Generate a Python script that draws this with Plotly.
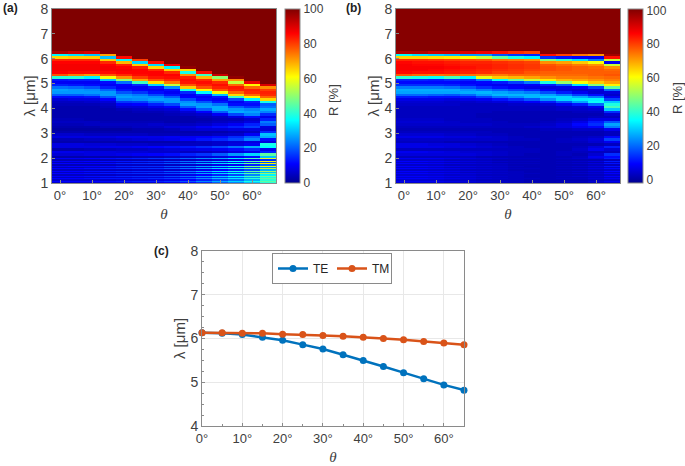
import numpy as np
import plotly.graph_objects as go

theta = [0, 5, 10, 15, 20, 25, 30, 35, 40, 45, 50, 55, 60, 65]
lam_edges = [8, 6.4, 6.3, 6.2, 6.1, 6.0, 5.9, 5.8, 5.7, 5.6, 5.5, 5.4, 5.3, 5.2, 5.1, 5.0, 4.9, 4.8, 4.7, 4.6, 4.5, 4.4, 4.3, 4.2, 4.1, 4.0,
             3.9, 3.8, 3.7, 3.6, 3.5, 3.4, 3.3, 3.2, 3.1, 3.0, 2.9, 2.8, 2.7, 2.6, 2.5, 2.4, 2.3, 2.2, 2.1, 2.0,
             1.95, 1.9, 1.85, 1.8, 1.75, 1.7, 1.65, 1.6, 1.55, 1.5, 1.45, 1.4, 1.35, 1.3, 1.25, 1.2, 1.15, 1.1, 1.05, 1.0]

a_band = [
 [100,100,95,35,65,82,86,87,87,87,86,78,40,13,10,14,22,27,26,20,12,7,5,4,3],
 [100,100,92,33,66,82,86,87,87,87,85,74,40,14,10,13,21,26,26,20,12,8,5,4,3],
 [100,100,90,30,66,82,86,87,87,87,85,71,35,14,10,12,19,25,26,22,13,8,6,4,3],
 [100,100,100,70,30,66,82,86,87,87,85,78,60,30,12,10,14,21,26,26,19,11,7,5,4],
 [100,100,100,100,85,35,68,83,86,87,86,82,72,50,22,11,10,13,19,25,27,24,16,10,7],
 [100,100,100,100,100,80,32,66,83,86,86,85,80,70,42,15,10,11,16,23,26,25,17,11,7],
 [100,100,100,100,100,100,85,32,65,82,86,86,84,78,64,32,13,10,12,18,25,27,22,14,9],
 [100,100,100,100,100,100,100,88,35,66,82,86,85,82,74,55,25,12,10,13,20,26,26,18,11],
 [100,100,100,100,100,100,100,100,98,65,38,72,83,85,84,78,66,38,15,10,11,18,25,27,20],
 [100,100,100,100,100,100,100,100,100,100,85,42,68,82,85,83,78,62,36,14,10,12,19,26,27],
 [100,100,100,100,100,100,100,100,100,100,100,92,50,70,82,85,83,78,60,30,13,10,13,22,28],
 [100,100,100,100,100,100,100,100,100,100,100,100,98,72,55,76,84,83,76,65,42,18,10,12,20],
 [100,100,100,100,100,100,100,100,100,100,100,100,100,100,88,62,76,83,82,76,62,35,14,12,16],
 [100,100,100,100,100,100,100,100,100,100,100,100,100,100,100,90,72,80,83,82,76,65,38,20,22],
]
a_mid = [
 [3,3,3,3,4,5,4,3,2,3],[3,3,3,3,4,5,4,3,2,3],[3,3,3,3,3,5,5,3,2,3],[3,3,3,3,3,4,5,4,2,3],
 [4,3,3,3,3,4,5,4,2,3],[5,4,3,3,3,4,5,5,3,3],[6,4,3,3,3,4,6,5,3,3],[7,5,4,3,3,3,5,7,4,3],
 [12,7,5,3,3,3,5,8,6,3],[20,11,6,4,3,4,6,10,7,3],[28,20,10,5,4,5,8,12,7,3],[26,28,18,8,4,6,10,14,8,4],
 [24,27,24,12,6,8,14,17,8,5],[28,24,15,9,14,23,20,8,7,15],
]
a_low = [
 [6,8,4,3,8,8,3,9,7,3],[6,8,4,3,8,8,3,9,7,3],[5,8,5,3,7,8,4,8,8,3],[5,8,5,3,7,9,4,8,8,3],
 [5,9,6,3,6,9,5,7,9,3],[5,9,7,3,6,10,5,7,10,4],[4,9,8,3,5,11,6,6,11,4],[4,10,9,3,5,12,7,6,12,5],
 [4,10,11,4,5,13,8,5,14,6],[4,11,13,5,5,15,9,5,16,7],[5,12,15,6,6,18,10,6,20,8],[6,15,18,7,8,22,12,8,26,10],
 [10,20,24,8,10,28,15,9,32,12],[30,28,12,8,38,36,9,14,45,30],
]
a_fringe = [
 [10,4,10,4,11,4,10,4,11,5,11,5,11,5,11,5,11,6,11,6],
 [10,4,10,4,11,4,11,4,11,5,11,5,11,5,11,5,11,6,11,6],
 [11,4,11,4,11,4,11,5,12,5,12,5,12,5,12,5,12,6,11,6],
 [12,4,12,4,12,4,12,5,13,5,13,5,13,5,13,6,13,6,12,7],
 [13,4,13,4,14,5,14,5,14,5,14,5,14,6,14,6,13,7,13,7],
 [14,4,14,4,15,5,15,5,15,6,15,6,15,6,15,7,14,7,14,8],
 [16,4,15,5,16,5,15,5,16,6,15,6,16,6,15,7,15,8,14,8],
 [18,5,18,5,19,5,19,6,19,6,19,7,18,7,18,8,17,9,16,9],
 [21,5,22,6,23,6,23,7,23,7,23,8,22,9,21,10,20,11,19,12],
 [25,6,26,7,28,7,28,8,28,9,28,10,27,11,26,13,25,14,24,15],
 [28,7,30,8,32,9,32,10,33,11,33,12,32,14,31,16,30,18,28,20],
 [34,8,36,9,38,10,38,12,38,14,38,16,37,18,36,20,34,22,32,24],
 [42,10,44,12,46,14,47,16,46,18,45,20,44,24,42,26,40,28,38,30],
 [58,15,60,18,62,22,60,25,55,28,52,30,50,35,48,38,45,40,45,40],
]
b_band = [
 [100,100,95,35,65,82,86,87,87,87,86,78,40,13,10,14,22,27,26,20,12,7,5,4,3],
 [100,100,95,32,65,82,85,86,87,87,85,76,38,13,10,14,22,27,26,20,12,7,5,4,3],
 [100,100,92,30,64,81,85,86,87,86,85,75,36,12,10,14,22,27,26,19,11,7,5,4,3],
 [100,100,92,28,63,80,84,85,86,85,84,76,42,14,10,13,21,27,26,18,11,6,4,4,3],
 [100,100,90,25,60,79,83,84,85,84,83,75,34,13,9,11,18,25,27,20,12,7,4,3,3],
 [100,100,88,25,55,78,83,84,84,83,82,74,58,22,10,9,14,22,28,25,16,8,5,3,3],
 [100,100,85,18,45,75,82,83,83,82,80,74,66,36,12,8,11,19,26,28,21,11,6,3,3],
 [100,100,82,15,38,74,81,82,82,81,80,76,68,45,16,8,9,16,24,28,24,14,7,4,3],
 [100,100,80,13,34,72,80,81,81,80,78,76,70,55,22,9,7,13,22,28,28,18,9,4,3],
 [100,100,100,85,14,48,72,78,79,79,77,76,72,63,38,12,6,9,17,26,30,24,12,5,3],
 [100,100,100,80,11,40,70,76,78,78,77,76,74,68,50,18,7,6,12,22,31,31,18,8,4],
 [100,100,100,75,9,32,66,74,77,77,77,76,74,70,60,32,9,5,8,16,27,33,26,12,5],
 [100,100,100,72,8,22,60,72,76,77,77,77,75,72,66,48,16,6,5,11,22,34,36,20,8],
 [100,100,100,97,85,55,8,55,72,76,77,78,76,74,70,62,45,20,6,4,8,16,30,38,42],
]
b_mid = [
 [3,3,3,3,4,5,4,3,2,3],[3,3,3,3,4,5,4,3,2,3],[3,3,3,3,4,5,4,3,2,3],[3,3,3,3,3,4,4,3,2,3],
 [3,3,3,3,3,3,4,3,2,3],[3,3,2,2,3,3,4,3,2,3],[3,2,2,2,2,3,3,3,2,2],[3,2,2,2,2,2,3,3,2,2],
 [3,2,2,2,2,2,3,4,2,2],[3,2,2,2,2,3,4,5,3,2],[4,2,2,2,3,4,6,6,3,2],[4,3,2,2,4,7,10,8,4,2],
 [5,3,2,3,7,12,14,10,4,2],[30,14,5,3,7,18,26,22,8,3],
]
b_low = [
 [5,7,4,3,7,7,3,8,6,3],[5,7,4,3,7,7,3,8,6,3],[5,7,4,3,6,7,3,7,6,3],[4,6,4,2,6,6,3,6,6,3],
 [4,6,4,2,5,6,3,5,6,3],[3,5,4,2,4,5,3,5,5,2],[3,4,4,2,3,4,3,4,4,2],[2,3,3,2,2,3,3,3,3,2],
 [2,2,3,2,2,2,3,3,2,2],[2,2,2,2,2,2,2,2,2,2],[2,2,3,3,2,2,2,3,3,2],[2,3,4,3,2,3,4,3,2,3],
 [2,4,6,5,2,6,8,3,5,8],[3,10,16,8,3,12,5,3,14,10],
]
b_fringe = [
 [8,4,9,4,9,4,9,4,9,4,9,5,9,5,9,5,9,5,8,5],
 [8,4,9,4,9,4,9,4,9,4,9,5,9,5,9,5,9,5,8,5],
 [8,4,8,4,8,4,8,4,8,4,8,4,8,5,8,5,8,5,8,5],
 [7,3,7,3,7,3,7,3,7,4,7,4,7,4,7,4,7,4,7,4],
 [6,3,6,3,6,3,6,3,6,3,6,3,6,4,6,4,6,4,6,4],
 [5,3,5,3,5,3,5,3,5,3,5,3,5,3,5,3,5,3,5,3],
 [4,2,4,2,4,3,4,3,4,3,4,3,4,3,4,3,4,3,4,3],
 [3,2,3,2,3,2,3,2,3,2,3,3,3,3,3,3,3,3,3,3],
 [3,2,3,2,3,2,2,2,3,2,2,2,3,2,2,2,3,2,2,2],
 [2,2,2,2,2,2,2,2,2,2,2,2,2,2,2,2,2,2,2,2],
 [3,2,3,2,3,2,3,2,3,2,3,2,3,2,3,2,3,2,3,2],
 [4,2,4,2,4,2,4,2,4,2,4,2,4,2,4,2,3,2,3,2],
 [6,2,6,2,6,3,6,3,6,3,6,3,5,3,5,3,5,3,5,3],
 [12,3,12,3,11,3,11,4,10,4,10,4,9,4,9,4,8,4,8,4],
]
te_peak = [6.13, 6.12, 6.09, 6.03, 5.96, 5.86, 5.76, 5.63, 5.50, 5.36, 5.22, 5.08, 4.94, 4.82]
tm_peak = [6.13, 6.13, 6.12, 6.12, 6.10, 6.09, 6.07, 6.05, 6.03, 6.00, 5.97, 5.93, 5.90, 5.86]

MATLAB_JET = [[0, "rgb(0,0,143)"], [0.11, "rgb(0,0,255)"], [0.36, "rgb(0,255,255)"], [0.61, "rgb(255,255,0)"],
              [0.86, "rgb(255,0,0)"], [1, "rgb(128,0,0)"]]

W, H = 685, 466
TXT = "#404040"
AX = "#8a8a8a"
def px(x): return x / W
def py(y): return 1 - y / H

def matrix(*blocks):
    cols = [sum((b[i] for b in blocks), []) for i in range(len(theta))]
    return np.array(cols).T[::-1]

def cbar(x):
    return dict(x=px(x), xanchor="left", xpad=0, y=py(9), yanchor="top", ypad=0,
                lenmode="pixels", len=174, thicknessmode="pixels", thickness=15, outlinecolor=AX, outlinewidth=1,
                tickvals=[0, 20, 40, 60, 80, 100], tickfont=dict(size=12, color=TXT), ticks="")

fig = go.Figure()
edges = lam_edges[::-1]
xe = [t - 2.5 for t in theta] + [67.5]
fig.add_trace(go.Heatmap(x=xe, y=edges, z=matrix(a_band, a_mid, a_low, a_fringe), colorscale=MATLAB_JET, zmin=0, zmax=100,
                         xaxis="x", yaxis="y", colorbar=cbar(285)))
fig.add_trace(go.Heatmap(x=xe, y=edges, z=matrix(b_band, b_mid, b_low, b_fringe), colorscale=MATLAB_JET, zmin=-1.8, zmax=100.8,
                         xaxis="x2", yaxis="y2", colorbar=cbar(628)))
for name, vals, col in [("TE", te_peak, "#0072BD"), ("TM", tm_peak, "#D95319")]:
    fig.add_trace(go.Scatter(x=theta, y=vals, name=name, xaxis="x3", yaxis="y3", mode="lines+markers", cliponaxis=False,
                             line=dict(color=col, width=2.5), marker=dict(color=col, size=7)))

deg = [f"{t}°" for t in range(0, 70, 10)]
def xa(dom, rng, **kw):
    return dict(domain=dom, range=rng, tickvals=list(range(0, 70, 10)), ticktext=deg, ticks="inside", ticklen=3, tickcolor=AX,
                showline=True, linecolor=AX, mirror=True, linewidth=1, tickfont=dict(size=13, color=TXT), zeroline=False, **kw)
def ya(dom, rng, vals, **kw):
    return dict(domain=dom, range=rng, tickvals=vals, ticks="inside", ticklen=3, tickcolor=AX, showline=True, linecolor=AX,
                mirror=True, linewidth=1, tickfont=dict(size=14, color=TXT), zeroline=False, **kw)

ttl = dict(text="λ [μm]", font=dict(size=15, color=TXT), standoff=1)
xt = dict(text="<i>θ</i>", font=dict(size=15, color=TXT, family="Liberation Serif"), standoff=6)
GRID = dict(showgrid=True, gridcolor="#e8e8e8", gridwidth=1)
NOGRID = dict(showgrid=False)
labels = [dict(text=f"<b>{t}</b>", x=px(x), y=py(y), xref="paper", yref="paper", showarrow=False,
               xanchor="left", yanchor="middle", font=dict(size=12, color="#222222"))
          for t, x, y in [("(a)", 1, 8), ("(b)", 344, 8), ("(c)", 152, 251)]]
cb_titles = [dict(text="R [%]", x=px(x), y=py(y), xref="paper", yref="paper", showarrow=False, textangle=-90,
                  xanchor="center", yanchor="middle", font=dict(size=13, color=TXT))
             for x, y in [(333, 100), (677, 98)]]
fig.update_layout(
    width=W, height=H, margin=dict(l=0, r=0, t=0, b=0, autoexpand=False), paper_bgcolor="white", plot_bgcolor="white",
    font=dict(family="Liberation Sans", color=TXT), showlegend=True,
    legend=dict(orientation="h", x=px(272), xanchor="left", y=py(253), yanchor="top", bordercolor=AX, borderwidth=1,
                font=dict(size=12, color="#262626"), itemwidth=30, entrywidthmode="pixels", entrywidth=14, bgcolor="white"),
    xaxis=xa([px(52), px(276)], [-2.5, 67.5], anchor="y", title=xt, **NOGRID),
    yaxis=ya([py(183), py(9)], [1, 8], list(range(1, 9)), anchor="x", title=ttl, **NOGRID),
    xaxis2=xa([px(396), px(620)], [-2.5, 67.5], anchor="y2", title=xt, **NOGRID),
    yaxis2=ya([py(183), py(9)], [1, 8], list(range(1, 9)), anchor="x2", title=ttl, **NOGRID),
    xaxis3=xa([px(202), px(464)], [0, 65], anchor="y3", title=xt,
              minor=dict(ticks="inside", ticklen=2, dtick=5, tickcolor=AX, showgrid=False), **GRID),
    yaxis3=ya([py(426), py(251)], [4, 8], [4, 5, 6, 7, 8], anchor="x3", title=ttl,
              minor=dict(ticks="inside", ticklen=2, dtick=0.25, tickcolor=AX, showgrid=False), **GRID),
    annotations=labels + cb_titles,
)
fig.write_html("out.html", config={"displayModeBar": False},
               post_script="document.body.style.margin='0';document.documentElement.style.overflow='hidden';")
